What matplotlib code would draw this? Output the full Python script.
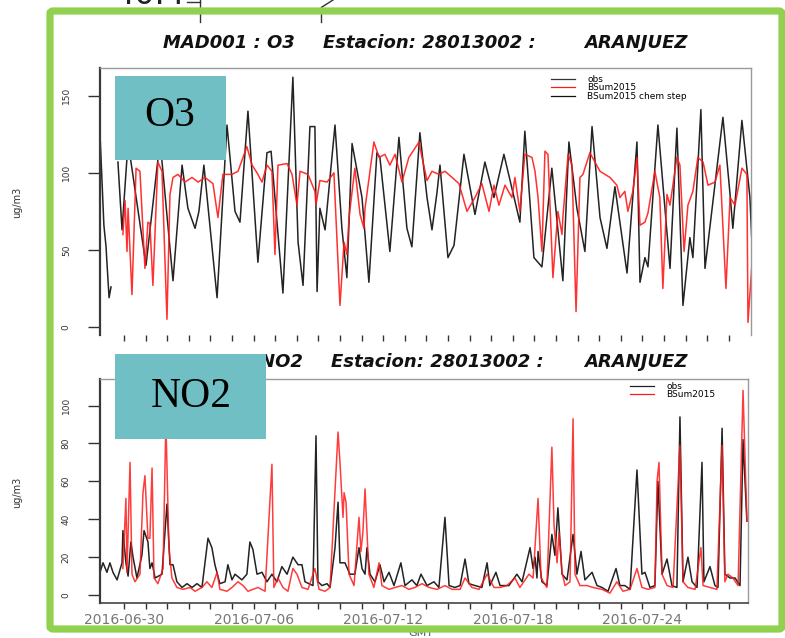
import numpy as np
import pandas as pd
import matplotlib
matplotlib.use("Agg")
import matplotlib.pyplot as plt
import matplotlib.patches as mpatches
from matplotlib.lines import Line2D

# === Hourly series, as days after 2016-06-30 00:00 GMT and ug/m3 ===
t_start = pd.Timestamp("2016-06-30")

o3_obs_t = [-1.11, -0.93, -0.83, -0.79, -0.69, -0.60, -0.45, -0.28, -0.09, 0.19,
            1.02, 1.67, 2.27, 2.69, 2.96, 3.29, 3.47, 3.70, 4.31, 4.77,
            5.14, 5.37, 5.74, 6.20, 6.62, 6.81, 7.36, 7.82, 8.06, 8.29,
            8.61, 8.84, 8.94, 9.07, 9.31, 9.77, 10.09, 10.32, 10.56, 11.02,
            11.34, 11.71, 11.85, 12.31, 12.73, 13.10, 13.33, 13.70, 14.03, 14.26,
            14.49, 14.63, 15.00, 15.28, 15.74, 16.25, 16.71, 17.13, 17.59, 18.33,
            18.56, 18.98, 19.35, 19.81, 20.32, 20.60, 20.97, 21.34, 21.67, 22.04,
            22.36, 22.73, 23.29, 23.75, 23.89, 24.12, 24.26, 24.72, 25.28, 25.60,
            25.88, 26.20, 26.34, 26.71, 26.90, 27.73, 28.06, 28.19, 28.61, 28.98,
            29.12]
o3_obs_v = [125, 66, 52, 42, 19, 26, np.nan, 107, 63, 120,
            40, 121, 30, 105, 77, 64, 75, 105, 19, 131,
            75, 68, 140, 42, 113, 114, 22, 162, 55, 27,
            130, 130, 23, 77, 63, 131, 64, 32, 119, 84,
            29, 113, 110, 49, 123, 64, 52, 126, 84, 63,
            87, 105, 45, 53, 112, 73, 107, 84, 112, 68,
            127, 45, 39, 103, 30, 120, 77, 49, 130, 71,
            51, 91, 35, 120, 29, 45, 39, 131, 38, 129,
            14, 58, 45, 141, 38, 136, 86, 64, 134, 84,
            40]

o3_mod_t = [-0.05, 0.05, 0.14, 0.19, 0.37, 0.56, 0.74, 0.97, 1.11, 1.20,
            1.34, 1.57, 1.76, 1.99, 2.13, 2.27, 2.50, 2.82, 3.15, 3.43,
            3.75, 4.12, 4.35, 4.58, 5.00, 5.28, 5.69, 5.93, 6.16, 6.39,
            6.62, 6.85, 6.99, 7.13, 7.55, 7.78, 8.01, 8.15, 8.52, 8.84,
            8.89, 9.07, 9.40, 9.72, 10.00, 10.19, 10.32, 10.42, 10.69, 10.93,
            11.11, 11.16, 11.57, 11.81, 12.08, 12.31, 12.55, 12.87, 13.19, 13.66,
            13.80, 14.03, 14.26, 14.58, 14.86, 15.19, 15.51, 15.88, 16.25, 16.57,
            16.90, 17.13, 17.36, 17.64, 17.96, 18.10, 18.33, 18.56, 18.89, 19.03,
            19.17, 19.35, 19.49, 19.63, 19.86, 20.09, 20.28, 20.32, 20.56, 20.74,
            20.93, 21.11, 21.25, 21.57, 22.04, 22.50, 22.82, 22.96, 23.19, 23.33,
            23.56, 23.75, 23.89, 24.12, 24.26, 24.58, 24.81, 24.95, 25.14, 25.28,
            25.60, 25.74, 25.93, 26.11, 26.34, 26.57, 26.81, 27.04, 27.36, 27.59,
            27.87, 28.06, 28.29, 28.61, 28.84, 28.89, 29.07]
o3_mod_v = [60, 82, 49, 77, 21, 103, 101, 38, 68, 67,
            27, 107, 101, 5, 86, 97, 99, 94, 97, 94,
            97, 93, 71, 99, 99, 101, 117, 105, 100, 94,
            105, 101, 47, 105, 106, 99, 79, 101, 99, 88,
            79, 95, 94, 100, 14, 55, 47, 71, 103, 73,
            64, 77, 120, 110, 112, 105, 112, 94, 110, 120,
            110, 95, 101, 99, 101, 97, 93, 75, 84, 93,
            75, 92, 79, 92, 84, 97, 75, 112, 110, 101,
            84, 49, 114, 112, 32, 75, 60, 71, 112, 105,
            10, 97, 99, 113, 101, 97, 92, 84, 88, 75,
            88, 110, 66, 68, 74, 101, 84, 25, 86, 79,
            110, 105, 49, 79, 88, 110, 107, 92, 94, 105,
            25, 84, 79, 103, 99, 3, 40]

no2_obs_t = [-1.11, -0.97, -0.79, -0.65, -0.51, -0.32, -0.09, -0.05, 0.09, 0.19,
             0.32, 0.42, 0.60, 0.83, 0.93, 1.11, 1.20, 1.30, 1.44, 1.76,
             1.99, 2.13, 2.27, 2.45, 2.69, 2.92, 3.15, 3.38, 3.61, 3.89,
             4.07, 4.21, 4.44, 4.68, 4.81, 5.00, 5.14, 5.46, 5.69, 5.83,
             5.97, 6.16, 6.39, 6.62, 6.85, 7.08, 7.31, 7.55, 7.82, 8.06,
             8.24, 8.38, 8.75, 8.89, 8.98, 9.17, 9.40, 9.54, 9.77, 9.91,
             10.00, 10.23, 10.46, 10.69, 10.88, 11.02, 11.16, 11.25, 11.39, 11.62,
             11.85, 12.04, 12.27, 12.50, 12.82, 13.01, 13.33, 13.56, 13.75, 14.03,
             14.35, 14.58, 14.86, 15.05, 15.32, 15.56, 15.79, 15.97, 16.25, 16.57,
             16.81, 16.94, 17.22, 17.41, 17.82, 18.19, 18.43, 18.80, 18.94, 19.03,
             19.12, 19.17, 19.35, 19.58, 19.81, 19.95, 20.09, 20.28, 20.51, 20.79,
             20.97, 21.16, 21.34, 21.67, 21.90, 22.13, 22.41, 22.78, 22.96, 23.19,
             23.43, 23.75, 23.98, 24.12, 24.35, 24.58, 24.72, 24.91, 25.14, 25.37,
             25.60, 25.74, 25.88, 26.11, 26.30, 26.53, 26.76, 26.85, 27.13, 27.36,
             27.50, 27.69, 27.82, 28.06, 28.29, 28.52, 28.66, 28.84]
no2_obs_v = [12, 17, 12, 17, 12, 8, 17, 34, 17, 10,
             28, 20, 9, 21, 34, 28, 14, 17, 9, 11,
             48, 16, 16, 7, 4, 6, 4, 6, 4, 30,
             25, 16, 6, 7, 16, 8, 11, 8, 11, 28,
             24, 11, 12, 7, 11, 7, 15, 11, 20, 16,
             16, 7, 5, 84, 7, 5, 6, 4, 25, 49,
             17, 17, 11, 11, 25, 14, 11, 25, 11, 7,
             16, 7, 12, 5, 17, 5, 8, 5, 11, 5,
             7, 4, 41, 5, 4, 5, 19, 6, 5, 4,
             17, 5, 12, 5, 5, 11, 7, 25, 14, 20,
             9, 23, 7, 5, 32, 21, 46, 11, 8, 32,
             11, 23, 8, 12, 5, 4, 2, 14, 5, 5,
             3, 66, 11, 12, 4, 5, 60, 11, 19, 5,
             4, 94, 7, 20, 7, 4, 70, 7, 15, 5,
             4, 88, 11, 9, 9, 5, 82, 39]

no2_mod_t = [-0.05, 0.09, 0.14, 0.28, 0.37, 0.51, 0.74, 0.88, 0.97, 1.06,
             1.11, 1.20, 1.30, 1.39, 1.57, 1.81, 1.94, 2.08, 2.22, 2.45,
             2.73, 3.06, 3.29, 3.61, 3.84, 4.07, 4.31, 4.44, 4.77, 5.00,
             5.28, 5.51, 5.74, 6.20, 6.53, 6.85, 6.94, 7.13, 7.36, 7.59,
             7.82, 8.01, 8.24, 8.52, 8.84, 9.03, 9.31, 9.54, 9.91, 10.00,
             10.14, 10.19, 10.28, 10.42, 10.65, 10.88, 10.97, 11.06, 11.16, 11.34,
             11.57, 11.81, 11.94, 12.27, 12.55, 12.87, 13.19, 13.47, 13.80, 14.12,
             14.49, 14.86, 15.19, 15.56, 15.79, 16.11, 16.44, 16.81, 17.13, 17.41,
             17.73, 18.10, 18.33, 18.75, 18.94, 19.17, 19.31, 19.58, 19.81, 19.91,
             20.05, 20.14, 20.28, 20.42, 20.65, 20.79, 20.88, 21.11, 21.44, 21.71,
             22.13, 22.50, 22.82, 23.10, 23.43, 23.75, 23.98, 24.26, 24.58, 24.68,
             24.77, 24.91, 25.14, 25.42, 25.74, 25.88, 26.11, 26.44, 26.71, 26.81,
             27.13, 27.45, 27.69, 27.82, 27.96, 28.19, 28.43, 28.66, 28.84]
no2_mod_v = [14, 51, 12, 70, 11, 7, 11, 54, 63, 41,
             30, 30, 67, 9, 6, 14, 92, 25, 9, 4,
             3, 4, 2, 4, 7, 4, 12, 3, 2, 4,
             7, 5, 2, 4, 2, 69, 4, 9, 4, 2,
             14, 11, 4, 3, 14, 3, 2, 4, 86, 70,
             41, 54, 49, 11, 5, 41, 23, 33, 56, 11,
             4, 17, 5, 3, 4, 5, 3, 4, 6, 4,
             3, 5, 3, 3, 9, 4, 3, 11, 4, 4,
             5, 9, 4, 11, 9, 51, 9, 4, 78, 37,
             17, 33, 12, 5, 7, 93, 11, 5, 5, 4,
             3, 1, 7, 2, 3, 14, 4, 3, 4, 60,
             70, 11, 5, 4, 79, 7, 4, 3, 25, 5,
             4, 3, 79, 7, 11, 9, 5, 108, 39]

o3_yticks = [0, 50, 100, 150]
no2_yticks = [0, 20, 40, 60, 80, 100]


def to_time(days):
    return (t_start + pd.to_timedelta(np.asarray(days, dtype=float), unit="D")).to_numpy()


# === Figure in pixel layout ===
W, H = 785, 638
fig = plt.figure(figsize=(W / 100, H / 100), dpi=100)
fig.patch.set_facecolor("white")


def box(l, t, r, b):
    return [l / W, 1 - b / H, (r - l) / W, (b - t) / H]


def fx(x):
    return x / W


def fy(y):
    return 1 - y / H


obs_col = "#232323"
mod_col = "#ff1a1a"
grey_txt = "#555555"

day_ticks = to_time(np.arange(0, 29))
day_labels = [pd.Timestamp(d).strftime("%Y-%m-%d") if i % 6 == 0 else ""
              for i, d in enumerate(day_ticks)]


def style_axis(ax, yticks, show_bottom):
    ax.set_yticks(yticks)
    ax.set_yticklabels([str(v) for v in yticks], rotation=90, va="center",
                       fontsize=6.5, color="#333333")
    ax.tick_params(axis="y", length=9, width=1.0, color="#333333", pad=12)
    ax.set_xticks(day_ticks)
    ax.tick_params(axis="x", length=4, width=1.0, color="#333333", pad=3)
    ax.spines["left"].set_color("#3a3a3a")
    ax.spines["left"].set_linewidth(1.6)
    for s in ("top", "right"):
        ax.spines[s].set_color("#9a9a9a")
        ax.spines[s].set_linewidth(1.0)
    if show_bottom:
        ax.set_xticklabels(day_labels, fontsize=10, color="#777777")
        ax.spines["bottom"].set_color("#444444")
        ax.spines["bottom"].set_linewidth(1.2)
    else:
        ax.set_xticklabels([""] * len(day_labels))
        ax.spines["bottom"].set_visible(False)


# === O3 panel ===
ax1 = fig.add_axes(box(100, 68, 751, 335))
ax1.plot(to_time(o3_obs_t), o3_obs_v, color=obs_col, lw=1.1)
ax1.plot(to_time(o3_mod_t), o3_mod_v, color=mod_col, lw=1.1, alpha=0.9)
ax1.set_xlim(to_time([-1.11])[0], to_time([29.03])[0])
ax1.set_ylim(-5.2, 168)
style_axis(ax1, o3_yticks, False)
h1 = [Line2D([], [], color="#333333", lw=0.9),
      Line2D([], [], color=mod_col, lw=0.9),
      Line2D([], [], color="#111111", lw=0.9)]
ax1.legend(h1, ["obs", "BSum2015", "BSum2015 chem step"], loc="upper left",
           bbox_to_anchor=(0.693, 0.975), frameon=False, fontsize=6.5,
           handlelength=2.6, handletextpad=1.4, labelspacing=-0.05,
           borderpad=0, borderaxespad=0)

# === NO2 panel ===
ax2 = fig.add_axes(box(100, 379, 748, 603))
ax2.plot(to_time(no2_obs_t), no2_obs_v, color=obs_col, lw=1.1)
ax2.plot(to_time(no2_mod_t), no2_mod_v, color=mod_col, lw=1.1, alpha=0.85)
ax2.set_xlim(to_time([-1.11])[0], to_time([28.89])[0])
ax2.set_ylim(-4.2, 114)
style_axis(ax2, no2_yticks, True)
h2 = [Line2D([], [], color="#222222", lw=0.9),
      Line2D([], [], color=mod_col, lw=0.9)]
ax2.legend(h2, ["obs", "BSum2015"], loc="upper left",
           bbox_to_anchor=(0.818, 0.985), frameon=False, fontsize=6.5,
           handlelength=2.6, handletextpad=1.4, labelspacing=-0.1,
           borderpad=0, borderaxespad=0)

# === Titles (three pieces each, spread like the R device output) ===
title_kw = dict(va="baseline", fontsize=13, fontweight="bold",
                fontstyle="italic", color="#111111")
for base, pol, right in [(48, "MAD001 : O3", 295), (367, "MAD001 : NO2", 303)]:
    fig.text(fx(right), fy(base), pol, ha="right", **title_kw)
    fig.text(fx(right + 28), fy(base), "Estacion: 28013002 :", ha="left", **title_kw)
    fig.text(fx(584), fy(base), "ARANJUEZ", ha="left", **title_kw)

fig.text(fx(17), fy(202), "ug/m3", rotation=90, ha="center", va="center",
         fontsize=7, color="#333333")
fig.text(fx(17), fy(492), "ug/m3", rotation=90, ha="center", va="center",
         fontsize=7, color="#333333")
fig.text(fx(421), fy(633), "GMT", ha="center", va="center", fontsize=8,
         color=grey_txt)

# remnants of the slide behind, above the frame
fig.text(fx(115), fy(4), "40.4", ha="left", va="baseline", fontsize=23,
         color="#222222")
for xs, ys in [([187, 200], [2, 2]), ([200, 200], [0, 22]),
               ([321, 321], [7, 22]), ([322, 333], [7, 0])]:
    fig.add_artist(Line2D([fx(x) for x in xs], [fy(y) for y in ys],
                          color="#333333", lw=1.0, zorder=4))

# === Slide overlays: label boxes and green frame ===
teal = "#70bfc4"
for (l, t, r, b), lab, cx, base in [((115, 76, 226, 160), "O3", 170, 126),
                                     ((115, 354, 266, 439), "NO2", 191, 407)]:
    fig.add_artist(mpatches.Rectangle((fx(l), fy(b)), (r - l) / W, (b - t) / H,
                                      transform=fig.transFigure, facecolor=teal,
                                      edgecolor="none", zorder=6))
    fig.text(fx(cx), fy(base), lab, ha="center", va="baseline", fontsize=30,
             family="Liberation Serif", color="black", zorder=7)

fig.add_artist(mpatches.FancyBboxPatch((fx(50), fy(629)), (782 - 50) / W, (629 - 11) / H,
                                       boxstyle="round,pad=0,rounding_size=0.004",
                                       transform=fig.transFigure, facecolor="none",
                                       edgecolor="#92d050", lw=5.2, zorder=8))

fig.savefig("out.png", dpi=100, facecolor="white")
